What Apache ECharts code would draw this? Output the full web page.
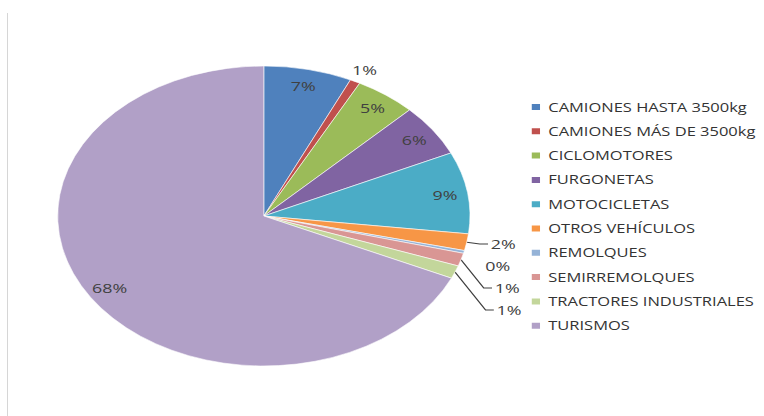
<!DOCTYPE html>
<html>
<head>
<meta charset="utf-8">
<script src="https://cdn.jsdelivr.net/npm/echarts@6/dist/echarts.min.js"></script>
<style>
  html, body { margin: 0; padding: 0; background: #fff; overflow: hidden; }
  #frame { position: absolute; left: 7px; top: 13px; bottom: 0; width: 1px; background: #d6d6d6; }
  /* the original picture is stretched sideways, so draw narrow and widen */
  #main { position: absolute; left: 0; top: 0; width: 556px; height: 416px; transform: scaleX(1.3741); transform-origin: 0 0; }
</style>
</head>
<body>
<div id="frame"></div>
<div id="main"></div>
<script>
const categories = [
  'CAMIONES HASTA 3500kg', 'CAMIONES MÁS DE 3500kg', 'CICLOMOTORES', 'FURGONETAS',
  'MOTOCICLETAS', 'OTROS VEHÍCULOS', 'REMOLQUES', 'SEMIRREMOLQUES',
  'TRACTORES INDUSTRIALES', 'TURISMOS'
];
const shares = [6.9, 0.8, 4.8, 5.6, 8.8, 1.8, 0.3, 1.4, 1.4, 68.2];
const colors = [
  '#4f81bd', '#c0504d', '#9bbb59', '#8064a2', '#4bacc6',
  '#f79646', '#95b3d7', '#d99694', '#c3d69b', '#b1a0c7'
];

// small slices get their label outside, the rest inside near the rim
const outside = {
  1: { line: false, length: 13, length2: 0, dist: -8 },
  5: { line: true, length: 10, length2: 6, dist: 2 },
  6: { line: false, length: 14, length2: 0, dist: 0 },
  7: { line: true, length: 18, length2: 6, dist: 2 },
  8: { line: true, length: 24, length2: 6, dist: 2 }
};

const font = { fontFamily: 'Open Sans', fontSize: 13, color: '#404040' };

const mainData = categories.map((name, i) => {
  const o = outside[i];
  return {
    name: name,
    value: shares[i],
    itemStyle: { color: colors[i] },
    label: o ? { show: true, position: 'outside', lineHeight: 20, distanceToLabelLine: o.dist } : { show: false },
    labelLine: o ? { show: o.line, length: o.length, length2: o.length2 } : { show: false }
  };
});

const rimData = categories.map((name, i) => ({
  name: name,
  value: shares[i],
  label: { show: !outside[i] }
}));

const chart = echarts.init(document.getElementById('main'), null, { renderer: 'svg' });
chart.setOption({
  backgroundColor: 'transparent',
  animation: false,
  legend: {
    orient: 'vertical',
    left: 380,
    top: 95,
    itemWidth: 8,
    itemHeight: 8,
    itemGap: 10.3,
    icon: 'rect',
    selectedMode: false,
    data: categories,
    textStyle: { fontFamily: 'Open Sans', fontSize: 12, color: '#333', lineHeight: 14 }
  },
  series: [
    {
      type: 'pie',
      center: [192, 216],
      radius: 150,
      startAngle: 90,
      clockwise: true,
      percentPrecision: 0,
      avoidLabelOverlap: true,
      itemStyle: { borderColor: '#fff', borderWidth: 0.5 },
      label: Object.assign({ formatter: '{d}%' }, font),
      labelLine: { lineStyle: { color: '#404040', width: 1 } },
      emphasis: { disabled: true },
      data: mainData
    },
    {
      type: 'pie',
      center: [192, 216],
      radius: [111, 150],
      startAngle: 90,
      clockwise: true,
      percentPrecision: 0,
      silent: true,
      legendHoverLink: false,
      itemStyle: { color: 'rgba(0,0,0,0)', borderWidth: 0 },
      label: Object.assign({ position: 'inside', formatter: '{d}%' }, font),
      labelLine: { show: false },
      emphasis: { disabled: true },
      data: rimData
    }
  ]
});
</script>
</body>
</html>
